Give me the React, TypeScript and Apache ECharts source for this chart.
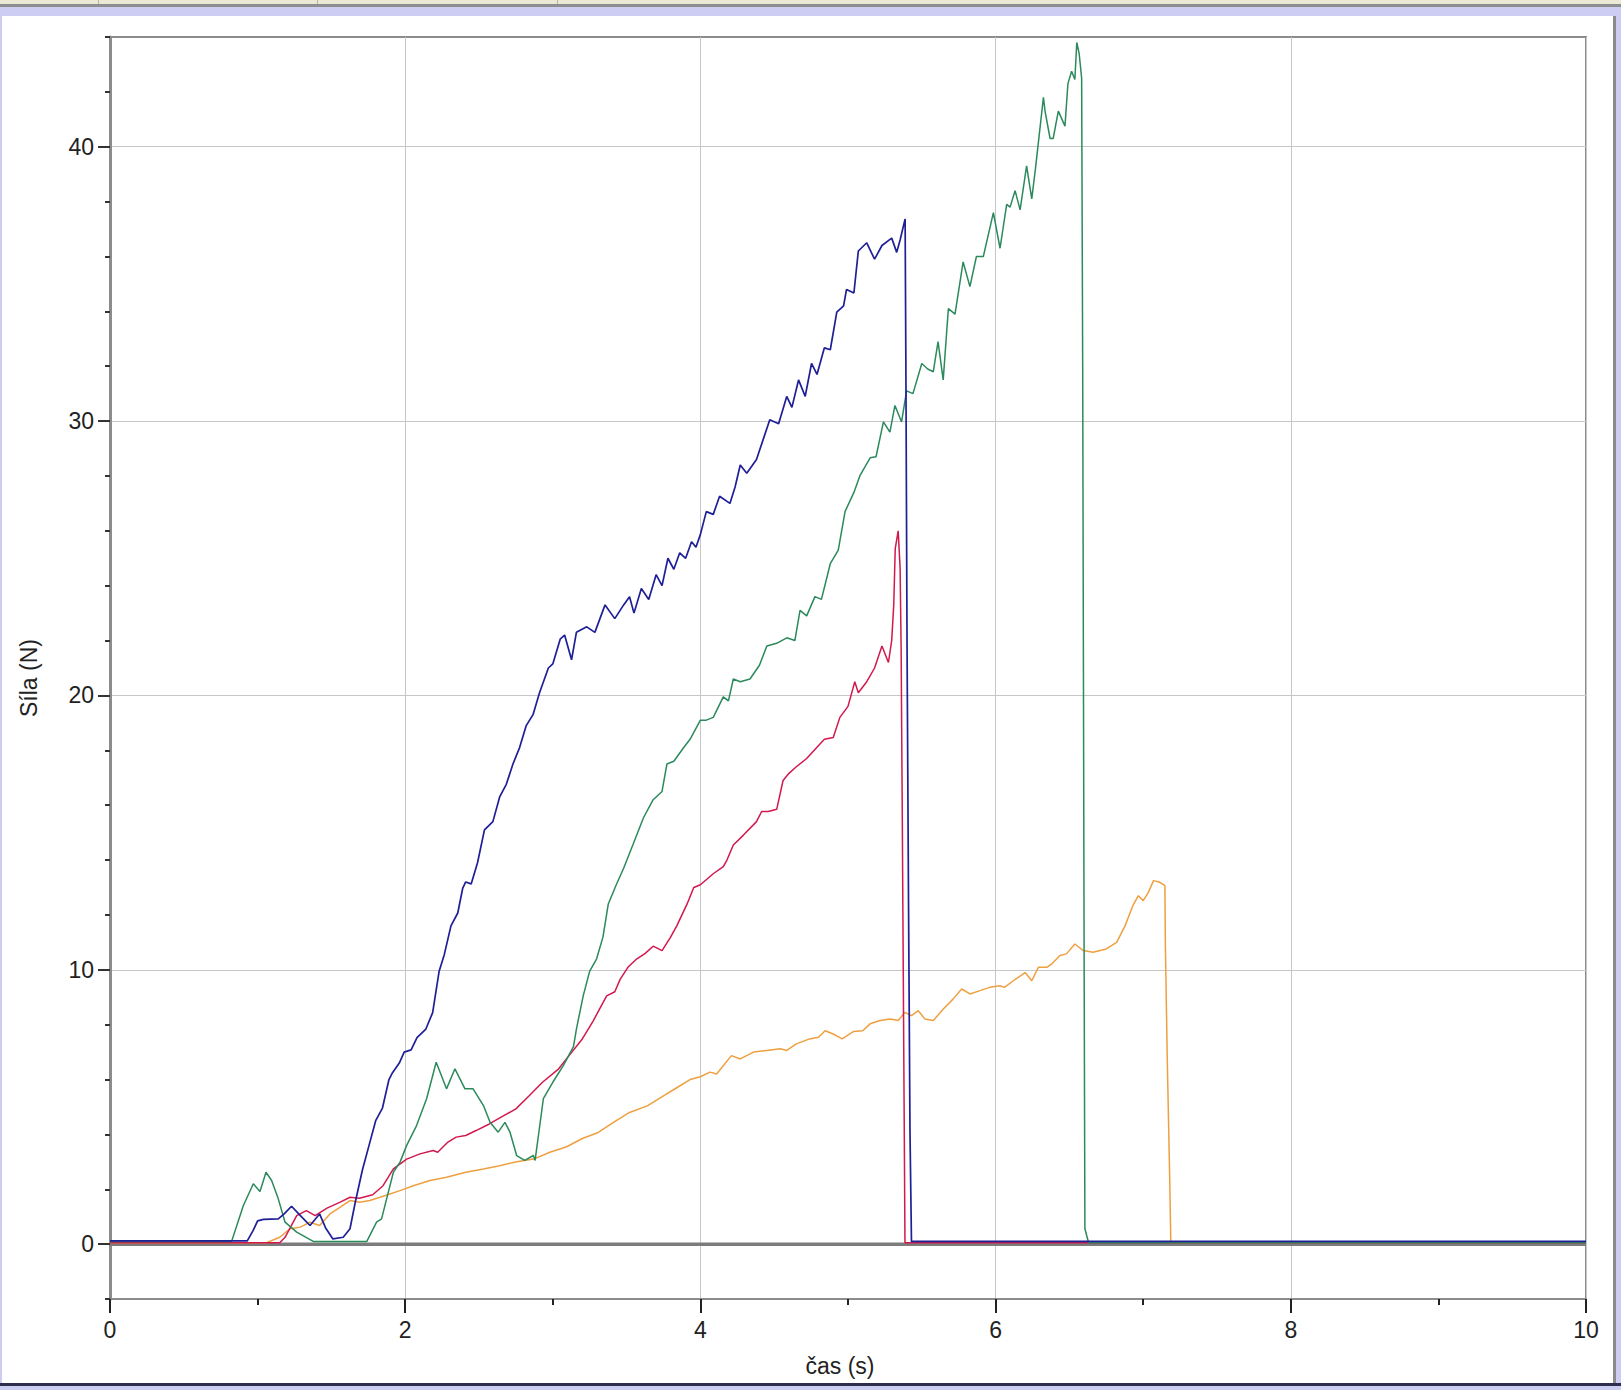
import React, { useEffect, useRef } from "react";
import * as echarts from "echarts";

// ---- data (time s, force N) ----
const blueData: [number, number][] = [
  [0, 0.12], [0.5, 0.12], [0.93, 0.12], [0.97, 0.5], [1.0, 0.85], [1.04, 0.9], [1.14, 0.92], [1.18, 1.1],
  [1.23, 1.38], [1.29, 1.04], [1.355, 0.68], [1.42, 1.1], [1.46, 0.6], [1.51, 0.19], [1.58, 0.25],
  [1.626, 0.56], [1.66, 1.48], [1.71, 2.7], [1.755, 3.6], [1.8, 4.5], [1.846, 4.96], [1.89, 6.0],
  [1.914, 6.25], [1.96, 6.6], [1.993, 7.0], [2.04, 7.08], [2.08, 7.53], [2.14, 7.84], [2.186, 8.44],
  [2.23, 9.95], [2.265, 10.56], [2.31, 11.6], [2.356, 12.07], [2.39, 12.98], [2.41, 13.2], [2.447, 13.13],
  [2.49, 13.9], [2.537, 15.1], [2.594, 15.4], [2.64, 16.3], [2.685, 16.76], [2.73, 17.5], [2.775, 18.1],
  [2.82, 18.9], [2.866, 19.3], [2.91, 20.1], [2.97, 21.0], [3.0, 21.15], [3.05, 22.05], [3.08, 22.2],
  [3.127, 21.3], [3.16, 22.3], [3.23, 22.5], [3.285, 22.3], [3.354, 23.3], [3.42, 22.8], [3.48, 23.3],
  [3.52, 23.6], [3.55, 23.0], [3.6, 23.9], [3.65, 23.5], [3.7, 24.4], [3.74, 24.0], [3.78, 25.0],
  [3.82, 24.6], [3.86, 25.2], [3.9, 25.0], [3.94, 25.6], [3.97, 25.4], [4.0, 25.87], [4.04, 26.7],
  [4.087, 26.6], [4.13, 27.26], [4.2, 27.0], [4.235, 27.6], [4.27, 28.4], [4.314, 28.1], [4.38, 28.6],
  [4.47, 30.05], [4.53, 29.9], [4.585, 30.9], [4.62, 30.5], [4.665, 31.5], [4.71, 30.9], [4.753, 32.1],
  [4.79, 31.7], [4.84, 32.67], [4.88, 32.6], [4.924, 33.97], [4.97, 34.2], [4.99, 34.8], [5.04, 34.67],
  [5.07, 36.2], [5.127, 36.5], [5.18, 35.9], [5.23, 36.4], [5.296, 36.67], [5.33, 36.15], [5.353, 36.6],
  [5.387, 37.37], [5.392, 32.2], [5.4, 21.9], [5.41, 12.5], [5.42, 4.1], [5.43, 0.1], [10, 0.1],
];

const greenData: [number, number][] = [
  [0, 0.1], [0.824, 0.1], [0.903, 1.4], [0.971, 2.2], [1.016, 1.92], [1.057, 2.62], [1.095, 2.32],
  [1.14, 1.65], [1.186, 0.8], [1.265, 0.44], [1.377, 0.1], [1.74, 0.1], [1.806, 0.8], [1.84, 0.92],
  [1.874, 1.65], [1.92, 2.62], [1.965, 2.99], [2.01, 3.6], [2.077, 4.32], [2.145, 5.3], [2.21, 6.63],
  [2.28, 5.66], [2.337, 6.39], [2.405, 5.66], [2.46, 5.66], [2.53, 5.05], [2.575, 4.44], [2.63, 4.08],
  [2.676, 4.44], [2.71, 4.08], [2.755, 3.23], [2.81, 3.05], [2.868, 3.23], [2.88, 3.05], [2.936, 5.3],
  [3.0, 5.9], [3.07, 6.5], [3.14, 7.2], [3.16, 7.84], [3.206, 9.05], [3.25, 9.95], [3.297, 10.4],
  [3.34, 11.2], [3.376, 12.4], [3.43, 13.1], [3.48, 13.7], [3.546, 14.6], [3.615, 15.55], [3.68, 16.2],
  [3.74, 16.5], [3.773, 17.5], [3.82, 17.6], [3.887, 18.1], [3.93, 18.4], [4.0, 19.1], [4.04, 19.1],
  [4.087, 19.2], [4.155, 19.95], [4.19, 19.8], [4.223, 20.6], [4.27, 20.5], [4.336, 20.6], [4.4, 21.1],
  [4.45, 21.8], [4.517, 21.9], [4.585, 22.1], [4.64, 22.0], [4.675, 23.1], [4.72, 22.9], [4.776, 23.6],
  [4.82, 23.5], [4.88, 24.8], [4.934, 25.3], [4.98, 26.7], [5.04, 27.4], [5.08, 28.0], [5.15, 28.66],
  [5.19, 28.7], [5.24, 29.97], [5.284, 29.6], [5.318, 30.57], [5.363, 29.97], [5.397, 31.1], [5.44, 31.0],
  [5.5, 32.1], [5.54, 31.9], [5.578, 31.8], [5.61, 32.9], [5.645, 31.5], [5.68, 34.1], [5.725, 33.9],
  [5.78, 35.8], [5.826, 34.9], [5.87, 36.0], [5.917, 36.0], [5.985, 37.6], [6.03, 36.3], [6.075, 37.9],
  [6.098, 37.8], [6.132, 38.4], [6.166, 37.7], [6.21, 39.3], [6.245, 38.1], [6.27, 39.2], [6.324, 41.8],
  [6.335, 41.3], [6.369, 40.3], [6.39, 40.3], [6.425, 41.3], [6.47, 40.75], [6.49, 42.3], [6.515, 42.75],
  [6.537, 42.45], [6.55, 43.8], [6.566, 43.4], [6.583, 42.5], [6.59, 32.0], [6.6, 10.0], [6.605, 0.56],
  [6.63, 0.05], [10, 0.05],
];

const redData: [number, number][] = [
  [0, 0.05], [1.15, 0.05], [1.186, 0.25], [1.265, 1.04], [1.33, 1.22], [1.39, 1.04], [1.47, 1.31],
  [1.56, 1.53], [1.626, 1.71], [1.69, 1.67], [1.78, 1.8], [1.85, 2.13], [1.92, 2.74], [2.01, 3.1],
  [2.1, 3.29], [2.19, 3.41], [2.22, 3.35], [2.29, 3.72], [2.345, 3.9], [2.41, 3.96], [2.48, 4.14],
  [2.57, 4.38], [2.65, 4.63], [2.75, 4.93], [2.84, 5.41], [2.93, 5.9], [3.04, 6.39], [3.11, 6.87],
  [3.2, 7.48], [3.274, 8.14], [3.32, 8.6], [3.365, 9.05], [3.42, 9.2], [3.456, 9.65], [3.51, 10.1],
  [3.57, 10.4], [3.626, 10.6], [3.68, 10.86], [3.74, 10.7], [3.796, 11.17], [3.84, 11.6], [3.91, 12.4],
  [3.955, 13.0], [4.0, 13.1], [4.087, 13.5], [4.155, 13.76], [4.18, 14.0], [4.223, 14.55], [4.29, 14.9],
  [4.38, 15.4], [4.415, 15.77], [4.46, 15.77], [4.517, 15.85], [4.56, 16.9], [4.6, 17.16], [4.65, 17.4],
  [4.72, 17.7], [4.788, 18.1], [4.84, 18.4], [4.9, 18.47], [4.945, 19.2], [5.0, 19.6], [5.046, 20.5],
  [5.07, 20.1], [5.127, 20.5], [5.18, 21.0], [5.23, 21.8], [5.274, 21.2], [5.296, 22.0], [5.31, 23.3],
  [5.32, 25.35], [5.34, 26.0], [5.353, 24.65], [5.36, 21.7], [5.368, 15.4], [5.38, 5.18], [5.386, 0.05],
  [10, 0.05],
];

const orangeData: [number, number][] = [
  [0, 0.05], [1.06, 0.05], [1.15, 0.25], [1.22, 0.56], [1.29, 0.62], [1.355, 0.8], [1.42, 0.68],
  [1.49, 1.1], [1.56, 1.35], [1.626, 1.59], [1.69, 1.53], [1.76, 1.59], [1.83, 1.71], [1.896, 1.83],
  [1.965, 1.95], [2.055, 2.13], [2.168, 2.32], [2.28, 2.44], [2.41, 2.62], [2.53, 2.74], [2.64, 2.86],
  [2.755, 3.0], [2.87, 3.1], [2.98, 3.35], [3.094, 3.55], [3.2, 3.85], [3.3, 4.05], [3.43, 4.5],
  [3.52, 4.8], [3.64, 5.04], [3.75, 5.4], [3.84, 5.7], [3.93, 6.0], [4.0, 6.1], [4.065, 6.27],
  [4.11, 6.2], [4.21, 6.87], [4.27, 6.75], [4.36, 7.0], [4.45, 7.06], [4.54, 7.12], [4.585, 7.06],
  [4.65, 7.3], [4.74, 7.48], [4.8, 7.54], [4.845, 7.78], [4.9, 7.66], [4.96, 7.48], [5.036, 7.75],
  [5.1, 7.78], [5.15, 8.03], [5.217, 8.15], [5.285, 8.21], [5.34, 8.15], [5.386, 8.45], [5.43, 8.33],
  [5.476, 8.51], [5.52, 8.21], [5.578, 8.15], [5.646, 8.57], [5.713, 8.94], [5.77, 9.3], [5.826, 9.12],
  [5.894, 9.24], [5.96, 9.36], [6.03, 9.42], [6.06, 9.36], [6.12, 9.6], [6.2, 9.9], [6.245, 9.6],
  [6.29, 10.09], [6.346, 10.09], [6.38, 10.21], [6.436, 10.52], [6.48, 10.58], [6.537, 10.94],
  [6.594, 10.7], [6.66, 10.64], [6.75, 10.76], [6.82, 11.0], [6.877, 11.6], [6.93, 12.34], [6.967, 12.7],
  [7.0, 12.52], [7.035, 12.82], [7.07, 13.25], [7.113, 13.19], [7.147, 13.07], [7.15, 11.0],
  [7.163, 6.75], [7.18, 2.3], [7.187, 0.05], [10, 0.05],
];

const zeroLine: [number, number][] = [[0, 0], [10, 0]];

const yMajorTicks = [0, 10, 20, 30, 40];
const xLabelTicks = [0, 2, 4, 6, 8, 10];

const W = 1621;
const H = 1390;
const FONT = "'Liberation Sans', Arial, sans-serif";
const LAV = "#cdcdf3";

export default function App() {
  const ref = useRef<HTMLDivElement>(null);
  useEffect(() => {
    if (!ref.current) return;
    const chart = echarts.init(ref.current, undefined, { renderer: "svg" });
    const lineSeries = (name: string, data: [number, number][], color: string, width: number, z: number) => ({
      name,
      type: "line",
      data,
      showSymbol: false,
      symbol: "none",
      silent: true,
      z,
      lineStyle: { color, width },
      xAxisIndex: 0,
      yAxisIndex: 0,
    });
    chart.setOption({
      animation: false,
      backgroundColor: "#ffffff",
      grid: {
        left: 110,
        right: 35,
        top: 37,
        bottom: 91,
        show: true,
        borderColor: "#8c8c8c",
        borderWidth: 2,
        backgroundColor: "transparent",
      },
      xAxis: {
        type: "value",
        min: 0,
        max: 10,
        interval: 2,
        position: "bottom",
        axisLine: { show: true, onZero: false, lineStyle: { color: "#8c8c8c", width: 2 } },
        axisTick: { show: true, length: 14, inside: false, lineStyle: { color: "#222", width: 2 } },
        minorTick: { show: true, splitNumber: 2, length: 6, lineStyle: { color: "#222", width: 2 } },
        axisLabel: {
          fontSize: 23,
          color: "#222",
          margin: 19,
          fontFamily: FONT,
          formatter: (v: number) => (xLabelTicks.includes(v) ? String(v) : ""),
        },
        splitLine: { show: true, lineStyle: { color: "#c6c6c6", width: 1 } },
        name: "čas (s)",
        nameLocation: "middle",
        nameGap: 55,
        nameTextStyle: { fontSize: 23, color: "#222", fontFamily: FONT, padding: [0, 16, 0, 0] },
      },
      yAxis: [
        {
          type: "value",
          min: -2,
          max: 44,
          interval: 2,
          position: "left",
          axisLine: { show: true, onZero: false, lineStyle: { color: "#8c8c8c", width: 3 } },
          axisTick: { show: true, length: 5, inside: false, lineStyle: { color: "#333", width: 2 } },
          axisLabel: { show: false },
          splitLine: { show: false },
        },
        {
          type: "value",
          min: -2,
          max: 44,
          position: "left",
          axisLine: { show: false },
          axisTick: { show: true, length: 12, inside: false, customValues: yMajorTicks, lineStyle: { color: "#333", width: 2 } },
          axisLabel: {
            fontSize: 23,
            color: "#222",
            margin: 16,
            fontFamily: FONT,
            customValues: yMajorTicks,
            formatter: (v: number) => (yMajorTicks.includes(v) ? String(v) : ""),
          },
          splitLine: { show: true, lineStyle: { color: "#c6c6c6", width: 1 } },
          name: "Síla (N)",
          nameLocation: "middle",
          nameGap: 70,
          nameTextStyle: { fontSize: 23, color: "#222", fontFamily: FONT, padding: [0, 20, 0, 0] },
        },
      ],
      series: [
        {
          name: "zero",
          type: "line",
          data: zeroLine,
          symbol: "none",
          silent: true,
          z: 1,
          lineStyle: { color: "#7c7c7c", width: 3.5 },
          xAxisIndex: 0,
          yAxisIndex: 0,
        },
        lineSeries("orange", orangeData, "#eea040", 1.5, 3),
        lineSeries("red", redData, "#d2184c", 1.5, 4),
        lineSeries("green", greenData, "#2b8a5c", 1.5, 5),
        lineSeries("blue", blueData, "#1f1f98", 1.7, 6),
      ],
      graphic: [
        { type: "rect", shape: { x: 0, y: 0, width: W, height: 5 }, style: { fill: "#ebe8d6" }, silent: true },
        { type: "rect", shape: { x: 98, y: 0, width: 1, height: 4 }, style: { fill: "#b5b3a5" }, silent: true },
        { type: "rect", shape: { x: 317, y: 0, width: 1, height: 4 }, style: { fill: "#b5b3a5" }, silent: true },
        { type: "rect", shape: { x: 557, y: 0, width: 1, height: 4 }, style: { fill: "#b5b3a5" }, silent: true },
        { type: "rect", shape: { x: 0, y: 4, width: W, height: 3 }, style: { fill: "#8e8e8e" }, silent: true },
        { type: "rect", shape: { x: 0, y: 7, width: W, height: 9 }, style: { fill: LAV }, silent: true },
        { type: "rect", shape: { x: 0, y: 7, width: 2, height: H - 7 }, style: { fill: LAV }, silent: true },
        { type: "rect", shape: { x: 1613, y: 16, width: 3, height: 1368 }, style: { fill: "#8a8a8a" }, silent: true },
        { type: "rect", shape: { x: 1616, y: 7, width: 5, height: H - 7 }, style: { fill: LAV }, silent: true },
        { type: "rect", shape: { x: 0, y: 1383, width: W, height: 3 }, style: { fill: "#2c2c4c" }, silent: true },
        { type: "rect", shape: { x: 0, y: 1386, width: W, height: 4 }, style: { fill: LAV }, silent: true },
      ],
    });
    return () => chart.dispose();
  }, []);
  return (
    <div
      ref={ref}
      style={{ position: "absolute", left: 0, top: 0, width: W, height: H }}
    />
  );
}
